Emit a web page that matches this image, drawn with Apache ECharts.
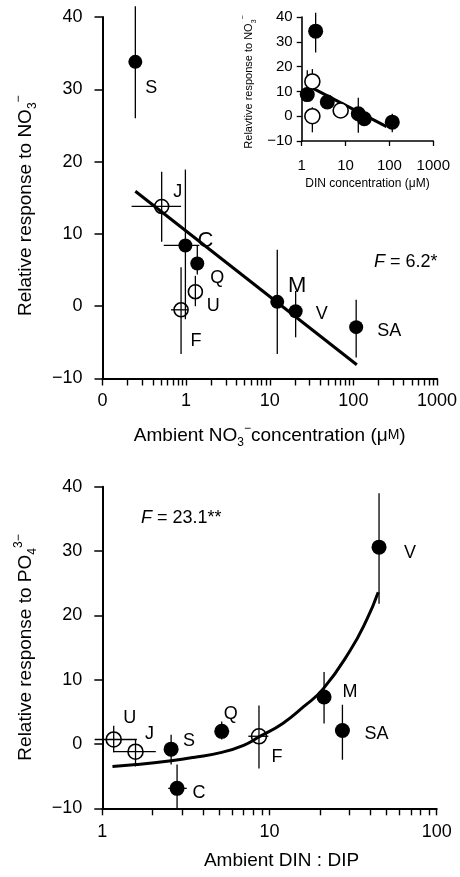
<!DOCTYPE html>
<html><head><meta charset="utf-8">
<script src="https://cdn.jsdelivr.net/npm/echarts@6/dist/echarts.min.js"></script>
<style>html,body{margin:0;padding:0;background:#fff}#c{width:460px;height:877px}</style>
</head><body><div id="c"></div>
<script>
// ---------- Panel 1 (main, top): response to NO3- vs ambient NO3- ----------
const aSites = ['S','J','C','Q','U','F','M','V','SA'];
const aOpen  = [false,true,false,false,true,true,false,false,false];
const aX     = [0.247,0.51,0.98,1.36,1.29,0.87,12.3,20.4,108];
const aY     = [33.8,13.8,8.4,5.9,2.0,-0.5,0.6,-0.7,-2.9];
const aYLo   = [26,8.9,-1.8,4.4,0.0,-6.6,-6.6,-4.3,-7.1];
const aYHi   = [41.5,18.6,18.9,8.4,4.2,5.4,7.8,2.1,0.9];
const aXLo   = [null,0.223,0.54,null,null,0.66,null,null,null];
const aXHi   = [null,0.87,1.44,null,null,1.05,null,null,null];
const aFitX  = [0.247,110];
const aFitY  = [15.9,-8.1];
const aXRange = [0.1,1000];

// ---------- Panel 2 (inset): response to NO3- vs DIN ----------
const bOpen = [false,false,false,false,false,false,true,true,true];
const bX    = [1.34,2.08,3.83,19.5,26.7,116,1.75,1.75,7.73];
const bY    = [8.7,34.3,5.7,1.0,-1.05,-2.4,14.0,0.0,2.3];
const bYLo  = [null,25.7,null,-6.7,null,-6.5,null,-6.5,null];
const bYHi  = [18.5,41.7,null,7.4,null,1.0,19,3.6,null];
const bFitX = [1.34,86];
const bFitY = [12.4,-4.2];
const bXRange = [1,1000];

// ---------- Panel 3 (bottom): response to PO4 3- vs DIN:DIP ----------
const cSites = ['U','J','S','C','Q','F','M','SA','V'];
const cOpen  = [true,true,false,false,false,true,false,false,false];
const cX     = [1.17,1.58,2.58,2.8,5.18,8.65,21.2,27.3,45.2];
const cY     = [0.7,-1.2,-0.8,-6.9,1.96,1.2,7.3,2.1,30.6];
const cYLo   = [-1.3,-3.5,-3.2,-10,0.7,-3.8,3.2,-2.45,21.8];
const cYHi   = [2.85,0.7,1.45,-3.2,3.5,6.0,11.2,6.1,39.0];
const cXLo   = [0.9,1.16,null,2.48,null,7.47,null,null,null];
const cXHi   = [1.61,2.09,null,3.2,null,9.84,null,null,null];
const cFitX  = [1.15,1.6,2.58,3.5,5.18,7,8.65,12,16,21,30.3,38.1,44.7];
const cFitY  = [-3.5,-3.2,-2.6,-2.1,-1.3,-0.2,1.1,3.2,5.8,8.6,14.5,19.3,23.6];
const cXRange = [1,100];
const yRange = [-10,40];

// ---------- styling (label offsets, sizes) ----------
const FONT = '"Liberation Sans", Arial, Helvetica, sans-serif';
const aLabelOff = {S:[16,26], J:[16,-14], C:[20,-5], Q:[20,14], U:[18,14], F:[15,31], M:[20,-16], V:[26,3], SA:[33,4]};
const aLabelSize = {C:22, M:22};
const cLabelOff = {U:[16,-21], J:[14,-18], S:[18,-8], C:[22,5], Q:[9,-17], F:[18,21], M:[26,-5], SA:[34,4], V:[31,6]};

const minusFmt = v => String(v).replace('-', '\u2212');
// log-axis tick positions: every 1..9 x 10^d between the range ends
function logTicks(lo, hi) {
  const out = [];
  const d0 = Math.round(Math.log10(lo)), d1 = Math.round(Math.log10(hi));
  for (let d = d0; d < d1; d++) for (let k = 1; k <= 9; k++) out.push(+(k * Math.pow(10, d)).toPrecision(6));
  out.push(hi);
  return out;
}

function errSeries(xi, yi, xs, ys, ylo, yhi, xlo, xhi, lw) {
  return {
    type: 'custom', xAxisIndex: xi, yAxisIndex: yi, clip: false, silent: true, z: 2,
    data: xs.map((x, i) => [x, ys[i]]),
    renderItem(params, api) {
      const i = params.dataIndex;
      const st = {stroke: '#000', lineWidth: lw};
      const kids = [];
      if (ylo[i] != null || yhi[i] != null) {
        const p1 = api.coord([xs[i], ylo[i] != null ? ylo[i] : ys[i]]);
        const p2 = api.coord([xs[i], yhi[i] != null ? yhi[i] : ys[i]]);
        kids.push({type: 'line', shape: {x1: p1[0], y1: p1[1], x2: p2[0], y2: p2[1]}, style: st});
      }
      if (xlo && xlo[i] != null) {
        const p1 = api.coord([xlo[i], ys[i]]);
        const p2 = api.coord([xhi[i], ys[i]]);
        kids.push({type: 'line', shape: {x1: p1[0], y1: p1[1], x2: p2[0], y2: p2[1]}, style: st});
      }
      return {type: 'group', children: kids};
    }
  };
}

function pointSeries(xi, yi, xs, ys, open, sites, offs, sizes, symSize, openFill) {
  return {
    type: 'scatter', xAxisIndex: xi, yAxisIndex: yi, symbol: 'circle', symbolSize: symSize, z: 4, silent: true,
    data: xs.map((x, i) => ({
      value: [x, ys[i]],
      itemStyle: open[i] ? {color: openFill, borderColor: '#000', borderWidth: 1.6, opacity: 1} : {color: '#000', opacity: 1},
      label: sites ? {show: true, position: 'inside', formatter: sites[i], offset: offs[sites[i]],
        fontSize: (sizes && sizes[sites[i]]) || 18, color: '#000', fontFamily: FONT} : {show: false}
    }))
  };
}

function fitSeries(xi, yi, xs, ys, lw, smooth) {
  return {type: 'line', xAxisIndex: xi, yAxisIndex: yi, symbol: 'none', smooth: smooth, z: 3, silent: true,
    lineStyle: {color: '#000', width: lw}, data: xs.map((x, i) => [x, ys[i]])};
}

const axLine = w => ({show: true, onZero: false, lineStyle: {color: '#000', width: w}});
const tick = (len, w) => ({show: true, inside: false, length: len, lineStyle: {color: '#000', width: w}});
const nameRich = (fs, small) => ({
  a: {fontSize: fs, lineHeight: fs + 7, fontFamily: FONT, color: '#000'},
  s: {fontSize: small, lineHeight: small, verticalAlign: 'bottom', fontFamily: FONT, color: '#000'},
  p: {fontSize: small, lineHeight: small, verticalAlign: 'top', fontFamily: FONT, color: '#000'},
  m: {fontSize: Math.round(fs * 0.75), fontFamily: FONT, color: '#000'}
});
const logLabel = v => (v < 0.5 ? '0' : String(Math.round(v)));
const statRich = {i: {fontStyle: 'italic', fontWeight: 'normal', fontSize: 18, fontFamily: FONT, color: '#000'},
                  n: {fontWeight: 'normal', fontSize: 18, fontFamily: FONT, color: '#000'}};

const option = {
  animation: false,
  backgroundColor: '#fff',
  textStyle: {fontFamily: FONT, color: '#000'},
  title: [
    {text: '{i|F}{n| = 6.2*}', left: 374, top: 253, padding: 0, textStyle: {fontWeight: 'normal', rich: statRich}},
    {text: '{i|F}{n| = 23.1**}', left: 141, top: 509, padding: 0, textStyle: {fontWeight: 'normal', rich: statRich}}
  ],
  grid: [
    {left: 102.5, top: 17, width: 334.5, height: 361.5, outerBoundsMode: 'none', containLabel: false},
    {left: 301.7, top: 17, width: 131.6, height: 124, outerBoundsMode: 'none', containLabel: false},
    {left: 102.3, top: 486.7, width: 334.4, height: 321.6, outerBoundsMode: 'none', containLabel: false}
  ],
  xAxis: [
    {type: 'log', gridIndex: 0, logBase: 10, min: aXRange[0], max: aXRange[1], position: 'bottom',
      axisLine: axLine(2), axisTick: Object.assign(tick(7, 1.4), {customValues: logTicks(aXRange[0], aXRange[1])}),
      splitLine: {show: false}, minorTick: {show: false},
      axisLabel: {formatter: logLabel, fontSize: 18, margin: 14, color: '#000', fontFamily: FONT},
      name: '{a|Ambient NO}{s|3}{p|\u2212}{a|concentration (\u03bc}{m|M}{a|)}', nameLocation: 'middle', nameGap: 44,
      nameTextStyle: {rich: nameRich(19, 12)}},
    {type: 'log', gridIndex: 1, logBase: 10, min: bXRange[0], max: bXRange[1], position: 'bottom',
      axisLine: axLine(1.6), axisTick: tick(5, 1.3), splitLine: {show: false},
      axisLabel: {formatter: logLabel, fontSize: 15, margin: 17, color: '#000', fontFamily: FONT},
      name: 'DIN concentration (\u03bcM)', nameLocation: 'middle', nameGap: 37,
      nameTextStyle: {fontSize: 12, color: '#000', fontFamily: FONT}},
    {type: 'log', gridIndex: 2, logBase: 10, min: cXRange[0], max: cXRange[1], position: 'bottom',
      axisLine: axLine(2), axisTick: Object.assign(tick(7, 1.4), {customValues: logTicks(cXRange[0], cXRange[1])}),
      splitLine: {show: false}, minorTick: {show: false},
      axisLabel: {formatter: logLabel, fontSize: 18, margin: 15, color: '#000', fontFamily: FONT},
      name: 'Ambient DIN : DIP', nameLocation: 'middle', nameGap: 43,
      nameTextStyle: {fontSize: 19, color: '#000', fontFamily: FONT, padding: [0, 0, 0, 24]}}
  ],
  yAxis: [
    {type: 'value', gridIndex: 0, min: yRange[0], max: yRange[1], interval: 10, position: 'left',
      axisLine: axLine(2), axisTick: tick(8, 1.5), splitLine: {show: false},
      axisLabel: {formatter: minusFmt, fontSize: 18, margin: 20, color: '#000', fontFamily: FONT},
      name: '{a|Relative response to NO}{s|3}{p|\u2212}', nameLocation: 'middle', nameRotate: 90, nameGap: 64,
      nameTextStyle: {rich: nameRich(19, 12), padding: [0, 16, 0, 0]}},
    {type: 'value', gridIndex: 1, min: yRange[0], max: yRange[1], interval: 10, position: 'left',
      axisLine: axLine(1.6), axisTick: tick(5, 1.3), splitLine: {show: false},
      axisLabel: {formatter: minusFmt, fontSize: 15, margin: 9, color: '#000', fontFamily: FONT},
      name: '{a|Relavtive response to NO}{s|3}{p|\u2212}', nameLocation: 'middle', nameRotate: 90, nameGap: 44,
      nameTextStyle: {rich: nameRich(11, 7), padding: [0, 6, 0, 0]}},
    {type: 'value', gridIndex: 2, min: yRange[0], max: yRange[1], interval: 10, position: 'left',
      axisLine: axLine(2), axisTick: tick(8, 1.5), splitLine: {show: false},
      axisLabel: {formatter: minusFmt, fontSize: 18, margin: 20, color: '#000', fontFamily: FONT},
      name: '{a|Relative response to PO}{s|4}{p|3\u2212}', nameLocation: 'middle', nameRotate: 90, nameGap: 64,
      nameTextStyle: {rich: nameRich(19, 12)}}
  ],
  series: [
    errSeries(0, 0, aX, aY, aYLo, aYHi, aXLo, aXHi, 1.3),
    fitSeries(0, 0, aFitX, aFitY, 3, false),
    pointSeries(0, 0, aX, aY, aOpen, aSites, aLabelOff, aLabelSize, 14, 'rgba(0,0,0,0)'),
    errSeries(1, 1, bX, bY, bYLo, bYHi, null, null, 1.3),
    fitSeries(1, 1, bFitX, bFitY, 3, false),
    pointSeries(1, 1, bX, bY, bOpen, null, null, null, 15, '#fff'),
    errSeries(2, 2, cX, cY, cYLo, cYHi, cXLo, cXHi, 1.3),
    fitSeries(2, 2, cFitX, cFitY, 3, true),
    pointSeries(2, 2, cX, cY, cOpen, cSites, cLabelOff, null, 15, 'rgba(0,0,0,0)')
  ]
};
const chart = echarts.init(document.getElementById('c'), null, {renderer: 'canvas'});
chart.setOption(option);
</script></body></html>
